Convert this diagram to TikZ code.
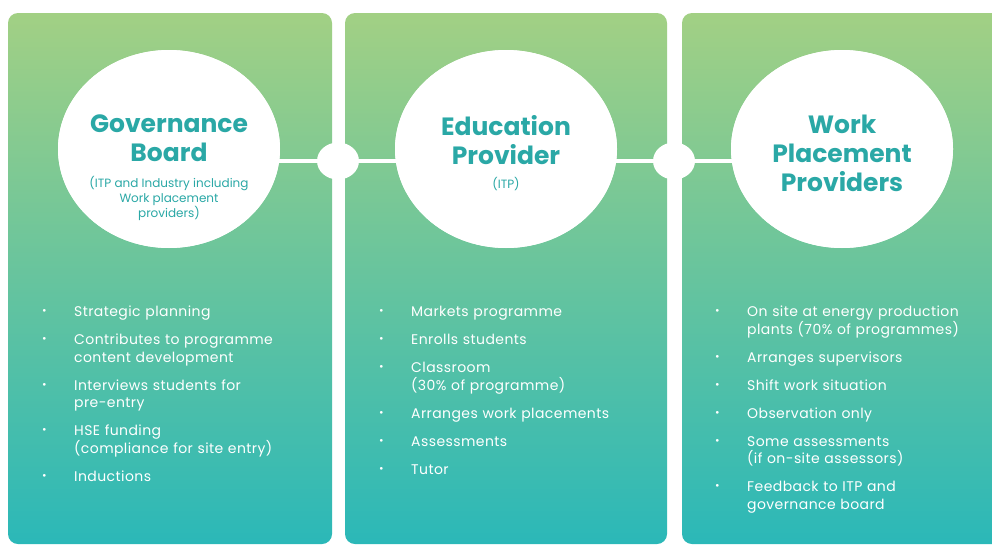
\documentclass[tikz,border=0pt]{standalone}
\usepackage{fontspec}
\setmainfont{Poppins}
\newfontfamily\listfont{Poppins}[LetterSpace=3]
\usetikzlibrary{shapes.geometric, positioning}

\definecolor{leaf}{HTML}{A2D084}
\definecolor{lagoon}{HTML}{2BB8B8}
\definecolor{titleteal}{HTML}{2AA8A6}

\tikzset{
	panel/.style={rounded corners=10pt, top color=leaf, bottom color=lagoon, draw=none},
	hub/.style={ellipse, fill=white, minimum width=222pt, minimum height=198pt, inner sep=0pt},
	joint/.style={ellipse, fill=white, minimum width=42pt, minimum height=37pt, inner sep=0pt},
	link/.style={white, line width=4.5pt},
	heading/.style={anchor=north, align=center, text=titleteal, font=\fontsize{25}{29}\selectfont\bfseries, inner sep=0pt},
	subhead/.style={align=center, text=titleteal, font=\fontsize{12}{15}\selectfont, inner sep=0pt},
	itemlist/.style={anchor=north west, text=white, text width=270pt, inner sep=0pt, font=\listfont\fontsize{14}{17.5}\selectfont}
}

% one bullet point, wrapped lines hang under the text
\newcommand{\itm}[1]{\noindent\hangindent=32pt\hangafter=1\makebox[32pt][l]{\raisebox{2pt}{\fontsize{11}{11}\selectfont\textbullet}}#1\par\vspace{10.5pt}}

\begin{document}
\begin{tikzpicture}[x=1pt, y=-1pt]
	\useasboundingbox[fill=white] (0,0) rectangle (992,546);

	% the three columns
	\path[panel] (8,13) rectangle (332,544);
	\path[panel] (345,13) rectangle (667,544);
	\path[panel] (682,13) rectangle (1010,544);

	% joints in the gaps and the line through them
	\node[joint] (j1) at (338,161) {};
	\node[joint] (j2) at (674,161) {};
	\node[hub] (gov) at (169,149) {};
	\node[hub] (edu) at (506,149) {};
	\node[hub] (work) at (842,149) {};
	\draw[link] (gov.center |- j1) -- (j1) -- (edu.center |- j1);
	\draw[link] (edu.center |- j2) -- (j2) -- (work.center |- j2);
	\node[hub] at (gov) {};
	\node[hub] at (edu) {};
	\node[hub] at (work) {};

	% titles
	\node[heading] (govtitle) at (169,115) {Governance\\Board};
	\node[subhead, below=14pt of govtitle] (govsub) {(ITP and Industry including\\Work placement\\providers)};
	\node[heading] (edutitle) at (506,115) {Education\\Provider};
	\node[subhead, below=12pt of edutitle] (edusub) {(ITP)};
	\node[heading] (worktitle) at (842,115) {Work\\Placement\\Providers};

	% duties of each party
	\node[itemlist] (govlist) at (42,306) {%
		\itm{Strategic planning}
		\itm{Contributes to programme\newline content development}
		\itm{Interviews students for\newline pre-entry}
		\itm{HSE funding\newline (compliance for site entry)}
		\itm{Inductions}};
	\node[itemlist] (edulist) at (379,306) {%
		\itm{Markets programme}
		\itm{Enrolls students}
		\itm{Classroom\newline (30\% of programme)}
		\itm{Arranges work placements}
		\itm{Assessments}
		\itm{Tutor}};
	\node[itemlist] (worklist) at (715,306) {%
		\itm{On site at energy production\newline plants (70\% of programmes)}
		\itm{Arranges supervisors}
		\itm{Shift work situation}
		\itm{Observation only}
		\itm{Some assessments\newline (if on-site assessors)}
		\itm{Feedback to ITP and\newline governance board}};
\end{tikzpicture}
\end{document}
